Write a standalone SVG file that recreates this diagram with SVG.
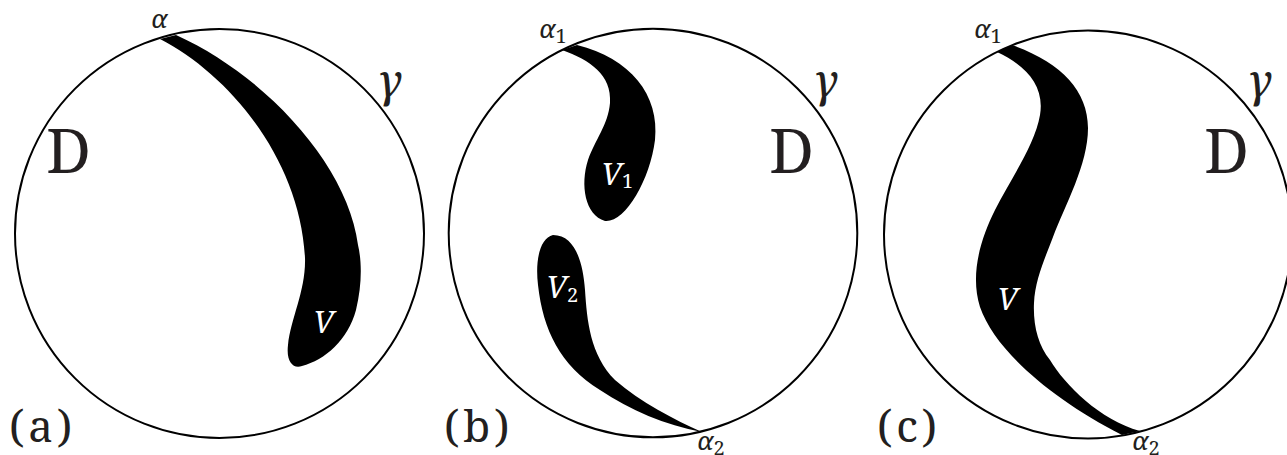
<svg xmlns="http://www.w3.org/2000/svg" width="1287" height="455" viewBox="0 0 1287 455">
<style>
.disk{fill:#fff;stroke:#000;stroke-width:2}
.blob{fill:#000;stroke:none}
text{font-family:'Noto Serif','DejaVu Serif',serif}
.lbl{fill:#231f20}
.big{font-size:62px}
.pan{font-size:44px;letter-spacing:4px}
.gam{font-size:46px;font-style:italic}
.alp{font-size:26px;font-style:italic}
.sub{font-size:20px;font-style:normal}
.vl{fill:#fff;font-style:italic;font-size:31px}
.vsub{font-size:20px;font-style:normal}
</style>
<rect width="1287" height="455" fill="#fff"/>
<g id="panel-a">
  <circle class="disk" cx="219.5" cy="233.5" r="204.5"/>
  <path class="blob" d="M160,39 C230,75 300,160 305,258 C306,290 291,318 288,345 C286,362 293,369 302,366 C325,360 348,340 356,310 C362,285 362,262 358,245 C348,165 265,75 176,35 Z"/>
  <text class="lbl alp" x="151" y="28">α</text>
  <text class="lbl gam" x="377" y="97">γ</text>
  <text class="lbl big" x="46" y="173">D</text>
  <text class="lbl pan" x="9" y="442">(a)</text>
  <text class="vl" x="313" y="333">V</text>
</g>
<g id="panel-b">
  <circle class="disk" cx="653" cy="233" r="204.3"/>
  <path class="blob" d="M562,50 C590,60 612,75 610,103 C608,125 595,140 588,160 C580,185 585,215 605,221 C625,223 650,180 655,140 C660,95 630,58 577,45 Z"/>
  <path class="blob" d="M553,235 C540,238 535,260 538,285 C543,330 560,365 600,390 C630,410 665,425 702,432 C675,420 640,402 615,380 C590,355 587,320 585,290 C583,262 575,235 553,235 Z"/>
  <text class="lbl alp" x="539" y="38">α<tspan class="sub" dy="5">1</tspan></text>
  <text class="lbl alp" x="697" y="450">α<tspan class="sub" dy="5">2</tspan></text>
  <text class="lbl gam" x="813" y="97">γ</text>
  <text class="lbl big" x="769" y="173">D</text>
  <text class="lbl pan" x="444" y="442">(b)</text>
  <text class="vl" x="601" y="185">V<tspan class="vsub" dy="3">1</tspan></text>
  <text class="vl" x="546" y="298">V<tspan class="vsub" dy="4">2</tspan></text>
</g>
<g id="panel-c">
  <circle class="disk" cx="1088" cy="234.5" r="204"/>
  <path class="blob" d="M997,52 C1025,65 1045,85 1040,115 C1035,145 1010,180 995,210 C980,240 970,275 980,307 C995,350 1050,398 1122,435 L1140,431 C1100,420 1065,385 1050,360 C1038,345 1033,325 1034,303 C1035,280 1045,258 1053,237 C1065,205 1088,165 1088,128 C1088,90 1060,62 1012,45 Z"/>
  <text class="lbl alp" x="974" y="38">α<tspan class="sub" dy="5">1</tspan></text>
  <text class="lbl alp" x="1132" y="450">α<tspan class="sub" dy="5">2</tspan></text>
  <text class="lbl gam" x="1247" y="97">γ</text>
  <text class="lbl big" x="1204" y="173">D</text>
  <text class="lbl pan" x="877" y="442">(c)</text>
  <text class="vl" x="997" y="310">V</text>
</g>
<g id="connectors"></g>
</svg>
